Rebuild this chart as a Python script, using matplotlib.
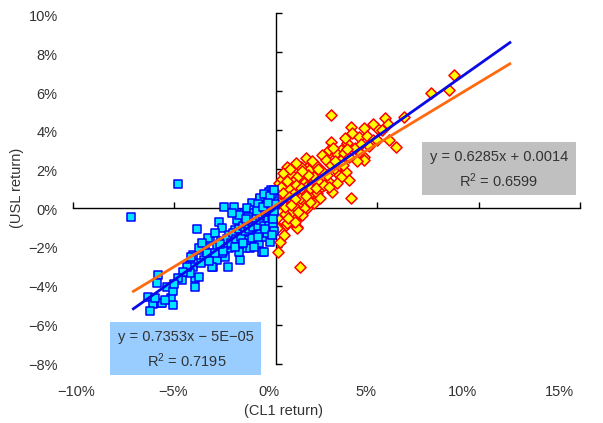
import matplotlib
matplotlib.use("Agg")
import matplotlib.pyplot as plt
from matplotlib.patches import Rectangle

plt.rcParams["font.family"] = ["Liberation Sans", "DejaVu Sans"]
plt.rcParams["mathtext.default"] = "regular"

# CL1 return < 0 (blue squares), values in %
neg_x = [-7.13, -4.80, -6.29, -6.04, -6.20, -5.66, -5.16, -5.05, -5.83, -5.87,
         -5.38, -5.05, -5.63, -5.96, -5.46, -4.64, -4.31, -4.22, -3.98, -3.96,
         -3.81, -4.09, -3.90, -4.16, -3.65, -3.48, -3.23, -3.12, -2.90, -2.82,
         -2.57, -2.08, -2.36, -2.49, -2.66, -1.92, -1.58, -1.17, -0.76, -0.43,
         -0.26, -1.50, -1.75, -0.68, -0.35, -1.09, -1.25, -2.16, -1.83, -2.33,
         -2.00, -2.33, -3.32, -3.81, -2.66, -1.25, -0.59, -0.84, -0.51, -1.00,
         -0.26, -0.43, -0.76, -0.18, -0.59, -1.42, -1.83, -2.16, -2.99, -3.65,
         -4.06, -3.56, -3.15, -1.83, -1.34, -1.09, -0.76, -0.68, -1.09, -0.35,
         -0.59, -1.09, -1.17, -0.68, -0.43, -1.17, -1.09, -0.31, -0.84, -0.26,
         -4.22, -2.90, -2.70, -2.50, -2.40, -2.20, -2.10, -1.95, -1.80, -1.70,
         -1.60, -1.50, -1.40, -1.30, -1.20, -1.10, -1.00, -0.90, -0.80, -0.70,
         -0.60, -0.50, -0.45, -0.40, -0.30, -0.25, -0.20, -0.15, -0.10, -0.10,
         -0.05, -0.20, -0.35, -0.55, -0.15, -0.10, -3.40, -3.00, -2.60, -3.70,
         -4.40, -4.60, -4.80, -5.00, -3.30, -2.00, -1.60, -0.90, -0.20, -0.60,
         -0.90, -0.30, -0.10, -1.35, -0.95, -0.65, -0.15, -2.75, -1.45, -0.40]
neg_y = [-0.46, 1.23, -4.55, -4.90, -5.30, -4.89, -4.60, -4.97, -3.44, -3.86,
         -4.03, -4.26, -4.89, -4.60, -4.72, -3.69, -3.27, -2.92, -4.03, -3.60,
         -3.52, -2.41, -1.09, -2.50, -2.15, -1.98, -1.64, -3.01, -2.67, -0.70,
         0.04, 0.04, -3.01, -2.50, -1.04, -0.62, -0.27, 0.24, 0.45, 0.45,
         0.92, -2.07, -2.67, -2.24, -1.47, -1.73, -1.38, -1.47, -1.90, -2.07,
         -1.13, -1.38, -1.55, -2.07, -2.32, -2.07, -2.24, -1.81, -1.47, -1.30,
         -1.04, -0.70, -0.36, -0.10, -0.02, -0.02, -0.36, -0.27, -1.30, -1.81,
         -3.01, -2.67, -3.01, -2.24, -1.64, -0.78, 0.50, 0.15, -0.10, 0.84,
         0.15, -0.27, -0.96, -0.78, -1.30, -1.55, -1.98, -1.73, -1.30, -0.62,
         -3.35, -2.00, -1.70, -1.90, -1.60, -1.80, -1.30, -1.60, -1.10, -1.50,
         -0.90, -1.20, -0.80, -1.10, -0.60, -1.00, -0.50, -0.90, -0.60, -0.30,
         -0.90, -0.40, 0.10, -0.50, -0.20, 0.30, -0.40, 0.10, -0.20, 0.50,
         0.20, 0.70, -0.90, -1.10, -0.80, -1.20, -2.30, -2.30, -2.20, -2.80,
         -3.00, -3.30, -3.60, -3.90, -2.70, -2.00, -1.80, -1.50, -1.40, 0.70,
         0.20, 0.60, 0.90, -0.45, -0.15, 0.05, -0.55, -1.85, -0.55, 0.25]

# CL1 return > 0 (orange diamonds), values in %
pos_x = [2.74, 1.17, 3.70, 0.10, 0.23, 0.40, 1.05, 1.22, 0.51, 1.63,
         3.70, 4.36, 5.01, 5.40, 6.34, 5.59, 5.93, 3.78, 4.11, 4.52,
         5.26, 2.71, 3.53, 2.62, 2.26, 3.03, 3.20, 4.36, 4.36, 4.11,
         0.56, 1.47, 1.55, 1.96, 2.46, 2.96, 3.12, 2.62, 2.79, 2.21,
         1.80, 1.30, 0.81, 0.15, 0.48, 1.14, 0.81, 0.15, 0.64, 0.15,
         0.02, 0.81, 1.55, 2.04, 3.45, 3.61, 8.81, 8.56, 7.66, 5.51,
         4.77, 3.20, 1.22, 1.63, 2.62, 2.96, 3.12, 3.37, 1.88, 1.05,
         0.85, 1.39, 2.38, 3.20, 0.23, 0.81, 1.22, 1.80, 2.04, 1.39,
         1.88, 1.39, 1.30, 0.56, 1.05, 0.07, 0.73, 1.05, 0.30, 0.50,
         0.70, 0.90, 1.00, 1.20, 1.40, 1.50, 1.70, 1.90, 2.10, 2.30,
         2.50, 2.70, 2.90, 0.20, 0.40, 0.60, 0.30, 0.10, 0.20, 0.45,
         0.90, 1.10, 1.70, 2.20, 1.60, 2.00, 2.40, 0.35, 0.70, 1.00,
         1.30, 1.80, 2.10, 0.05, 0.08, 0.60, 0.95, 1.50, 0.25, 0.55,
         2.60, 3.00, 3.30, 3.60, 3.90, 4.00, 4.60, 5.00, 4.20, 3.50,
         2.80, 3.40, 4.80, 0.35, 0.65, 0.95, 1.25, 0.15, 0.45, 0.75]
pos_y = [4.77, -3.01, 0.50, -2.24, -1.73, -1.38, -0.96, -0.36, -0.87, 0.58,
         4.17, 4.09, 4.09, 4.60, 4.68, 3.49, 3.14, 3.83, 3.66, 3.69,
         4.00, 3.40, 3.32, 2.80, 2.72, 2.89, 2.46, 2.63, 2.46, 2.89,
         2.12, 2.55, 2.03, 2.20, 2.46, 1.95, 1.69, 1.35, 0.84, 1.09,
         1.35, 1.52, 1.69, 1.27, 1.01, 0.92, 0.50, 0.07, -0.10, -0.36,
         -0.87, -0.44, -0.02, 0.58, 1.86, 1.44, 6.82, 6.05, 5.88, 4.29,
         3.49, 2.97, 2.12, 1.95, 2.97, 2.80, 2.20, 2.80, 1.44, 1.61,
         1.35, 1.27, 1.61, 1.61, 0.75, 1.09, 0.75, 0.84, 0.75, 0.32,
         0.27, 0.00, -0.36, -0.78, -1.04, -1.04, -0.18, 0.15, 0.40, 0.60,
         0.30, 0.80, 1.20, 0.50, 0.90, 1.10, 1.00, 1.60, 1.40, 1.90,
         1.70, 2.20, 2.40, 0.50, 0.20, 1.00, 1.50, 0.90, -0.10, -0.30,
         0.10, -0.20, 0.30, 0.50, 1.70, 1.00, 1.20, 1.80, 2.00, 2.30,
         1.90, 2.40, 2.00, 0.40, -0.50, -0.50, -0.70, 0.60, 1.10, 1.40,
         1.10, 1.30, 2.20, 2.60, 3.10, 2.40, 3.20, 3.50, 3.30, 3.00,
         3.10, 3.60, 4.30, 0.75, 0.55, 0.45, 1.05, 0.25, 0.05, 0.15]

# trendlines (slope, intercept in %) and their x span
neg_fit = (0.7353, -0.005)
pos_fit = (0.6285, 0.14)
fit_x = [-7.08, 11.6]

x_ticks = [-10, -5, 0, 5, 10, 15]
x_labels = ["\u221210%", "\u22125%", "0%", "5%", "10%", "15%"]
y_ticks = [-8, -6, -4, -2, 0, 2, 4, 6, 8, 10]
y_labels = ["\u22128%", "\u22126%", "\u22124%", "\u22122%", "0%", "2%", "4%", "6%", "8%", "10%"]

W, H = 603, 423
fig = plt.figure(figsize=(W / 100, H / 100), dpi=100)


def fx(px):
    return px / W


def fy(py):
    return 1 - py / H


rect = [fx(73), fy(364), (580 - 73) / W, (364 - 13) / H]

# tick labels live on their own invisible axes, at the left/bottom edges
lab = fig.add_axes(rect, frameon=False)
lab.set_xlim(-10.155, 16.087)
lab.set_ylim(-7.846, 10.154)
lab.set_xticks(x_ticks, x_labels)
lab.set_yticks(y_ticks, y_labels)
lab.tick_params(length=0, labelsize=10.5, labelcolor="#333333")
lab.tick_params(axis="x", pad=15)
lab.tick_params(axis="y", pad=11)

ax = fig.add_axes(rect)
ax.patch.set_alpha(0)
ax.set_xlim(-10, 15)
ax.set_ylim(-8, 10)
for s in ["top", "right"]:
    ax.spines[s].set_visible(False)
ax.spines["left"].set_position(("data", 0))
ax.spines["bottom"].set_position(("data", 0))
ax.spines["left"].set_linewidth(1.0)
ax.spines["bottom"].set_linewidth(1.0)
ax.set_xticks(x_ticks)
ax.set_yticks(y_ticks)
ax.tick_params(direction="in", length=4.5, width=1.0,
               labelbottom=False, labelleft=False)

ax.scatter(pos_x, pos_y, marker="D", s=32, facecolor="#ffff00",
           edgecolor="#ff0000", linewidth=1.1, zorder=3)
ax.scatter(neg_x, neg_y, marker="s", s=36, facecolor="#00e5ff",
           edgecolor="#0000ff", linewidth=1.1, zorder=4)

ax.plot(fit_x, [pos_fit[0] * v + pos_fit[1] for v in fit_x],
        color="#ff6a10", lw=2.0, zorder=5, solid_capstyle="butt")
ax.plot(fit_x, [neg_fit[0] * v + neg_fit[1] for v in fit_x],
        color="#0a0ae6", lw=2.0, zorder=6, solid_capstyle="butt")

# equation boxes
fig.patches.append(Rectangle((fx(422), fy(195)), (576 - 422) / W, (195 - 142) / H,
                             transform=fig.transFigure, facecolor="#c0c0c0",
                             edgecolor="none", zorder=7))
fig.patches.append(Rectangle((fx(110), fy(375)), (261 - 110) / W, (375 - 322) / H,
                             transform=fig.transFigure, facecolor="#99ccff",
                             edgecolor="none", zorder=7))
tkw = dict(ha="center", va="center", fontsize=10.5, color="#333333", zorder=8)
fig.text(fx(499), fy(157), "y = 0.6285x + 0.0014", **tkw)
fig.text(fx(499), fy(181), "R$^2$ = 0.6599", **tkw)
fig.text(fx(186), fy(337), "y = 0.7353x \u2212 5E\u221205", **tkw)
fig.text(fx(187), fy(361), "R$^2$ = 0.7195", **tkw)

fig.text(fx(17), fy(188), "(USL return)", rotation=90, ha="center", va="center",
         fontsize=10.5, color="#333333")
fig.text(fx(283), fy(411), "(CL1 return)", ha="center", va="center",
         fontsize=10.5, color="#333333")

fig.savefig("out.png", dpi=100)
